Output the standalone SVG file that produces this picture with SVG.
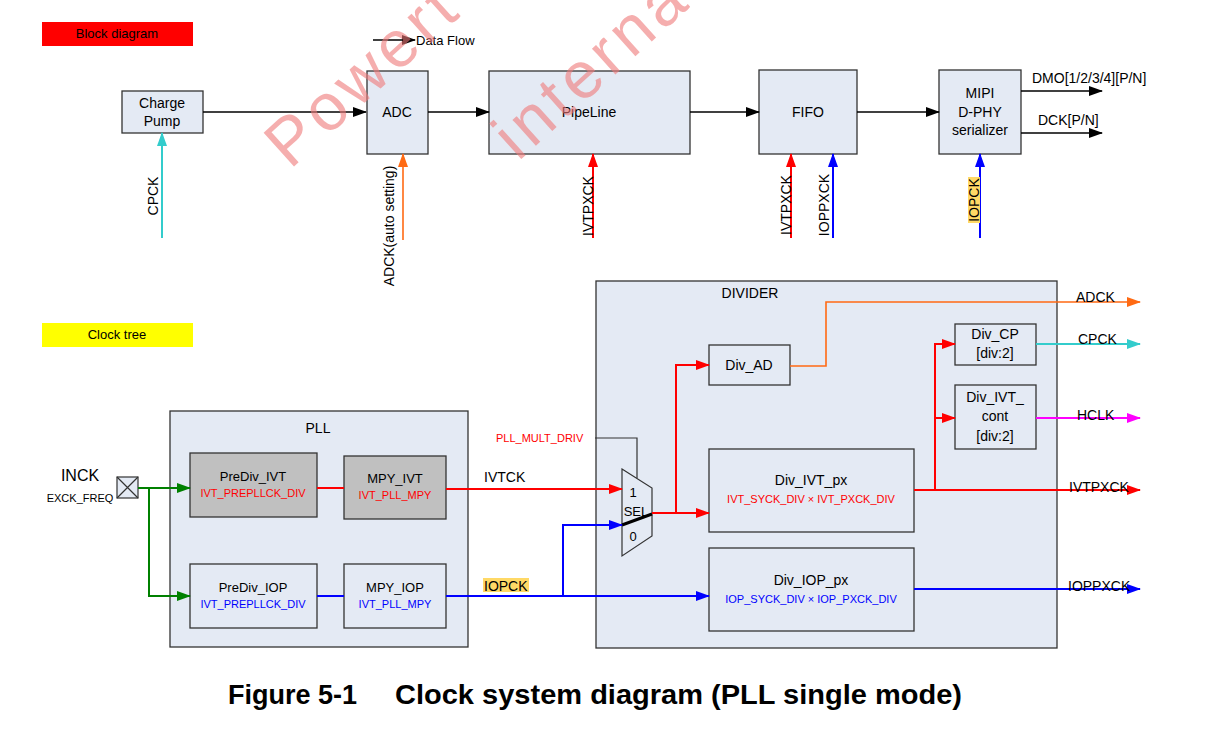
<svg xmlns="http://www.w3.org/2000/svg" width="1228" height="750" viewBox="0 0 1228 750">
<style>
text{font-family:"Liberation Sans",Arial,sans-serif;fill:#000}
.box{fill:#e4eaf4;stroke:#333;stroke-width:1.3}
.gbox{fill:#c0c0c0;stroke:#333;stroke-width:1.3}
.t14{font-size:14px;text-anchor:middle}
.t13{font-size:13px;text-anchor:middle}
.s11{font-size:11px;text-anchor:middle}
.lbl{font-size:14px}
.k{stroke:#000;stroke-width:1.6;fill:none}
.r{stroke:#ff0000;stroke-width:2;fill:none}
.b{stroke:#0000ff;stroke-width:2;fill:none}
.g{stroke:#008000;stroke-width:2;fill:none}
.o{stroke:#ff6a13;stroke-width:1.6;fill:none}
.c{stroke:#33cccc;stroke-width:2;fill:none}
.m{stroke:#ff00ff;stroke-width:2;fill:none}
.wm{font-size:66px;fill:#f07a7a;opacity:0.6;letter-spacing:5px}
</style>
<defs>
<marker id="ak" viewBox="0 0 14 10" refX="13" refY="5" markerWidth="14" markerHeight="10" orient="auto" markerUnits="userSpaceOnUse"><path d="M0,0L14,5L0,10z" fill="#000"/></marker>
<marker id="ar" viewBox="0 0 14 10" refX="13" refY="5" markerWidth="14" markerHeight="10" orient="auto" markerUnits="userSpaceOnUse"><path d="M0,0L14,5L0,10z" fill="#ff0000"/></marker>
<marker id="abl" viewBox="0 0 14 10" refX="13" refY="5" markerWidth="14" markerHeight="10" orient="auto" markerUnits="userSpaceOnUse"><path d="M0,0L14,5L0,10z" fill="#0000ff"/></marker>
<marker id="ag" viewBox="0 0 14 10" refX="13" refY="5" markerWidth="14" markerHeight="10" orient="auto" markerUnits="userSpaceOnUse"><path d="M0,0L14,5L0,10z" fill="#008000"/></marker>
<marker id="ao" viewBox="0 0 14 10" refX="13" refY="5" markerWidth="14" markerHeight="10" orient="auto" markerUnits="userSpaceOnUse"><path d="M0,0L14,5L0,10z" fill="#ff6a13"/></marker>
<marker id="ac" viewBox="0 0 14 10" refX="13" refY="5" markerWidth="14" markerHeight="10" orient="auto" markerUnits="userSpaceOnUse"><path d="M0,0L14,5L0,10z" fill="#33cccc"/></marker>
<marker id="am" viewBox="0 0 14 10" refX="13" refY="5" markerWidth="14" markerHeight="10" orient="auto" markerUnits="userSpaceOnUse"><path d="M0,0L14,5L0,10z" fill="#ff00ff"/></marker>
</defs>
<rect width="1228" height="750" fill="#fff"/>

<!-- section labels -->
<g id="block-diagram-label"><rect x="42" y="22" width="151" height="24" fill="#ff0000"/><text x="117" y="38" class="t13">Block diagram</text></g>
<g id="clock-tree-label"><rect x="42" y="323" width="151" height="24" fill="#ffff00"/><text x="117" y="339" class="t13">Clock tree</text></g>
<g id="legend"><text x="416" y="45" font-size="13">Data Flow</text></g>

<!-- containers -->
<g id="pll"><rect x="170" y="411" width="298" height="236" class="box"/><text x="318" y="433" class="t14">PLL</text></g>
<g id="divider"><rect x="596" y="281" width="461" height="367" class="box"/><text x="750" y="298" class="t14">DIVIDER</text></g>

<!-- block diagram nodes -->
<g id="charge-pump"><rect x="122" y="91" width="81" height="42" class="box"/><text x="162" y="108" class="t14">Charge</text><text x="162" y="126" class="t14">Pump</text></g>
<g id="adc"><rect x="367" y="71" width="61" height="83" class="box"/><text x="397" y="117" class="t14">ADC</text></g>
<g id="pipeline"><rect x="489" y="71" width="201" height="83" class="box"/><text x="589" y="117" class="t14">PipeLine</text></g>
<g id="fifo"><rect x="759" y="70" width="98" height="84" class="box"/><text x="808" y="117" class="t14">FIFO</text></g>
<g id="mipi"><rect x="939" y="70" width="82" height="84" class="box"/><text x="980" y="98" class="t14">MIPI</text><text x="980" y="117" class="t14">D-PHY</text><text x="980" y="135" class="t14">serializer</text></g>

<!-- clock tree nodes -->
<g id="inck"><text x="80" y="481" font-size="16" text-anchor="middle">INCK</text><text x="80" y="502" class="s11">EXCK_FREQ</text><rect x="117" y="477" width="21" height="21" fill="#e4eaf4" stroke="#333" stroke-width="1.2"/><path d="M117,477L138,498M138,477L117,498" stroke="#333" stroke-width="1.2"/></g>
<g id="prediv-ivt"><rect x="190" y="453" width="127" height="64" class="gbox"/><text x="253" y="481" class="t13">PreDiv_IVT</text><text x="253" y="497" class="s11" style="fill:#ff0000">IVT_PREPLLCK_DIV</text></g>
<g id="mpy-ivt"><rect x="344" y="456" width="102" height="63" class="gbox"/><text x="395" y="483" class="t13">MPY_IVT</text><text x="395" y="499" class="s11" style="fill:#ff0000">IVT_PLL_MPY</text></g>
<g id="prediv-iop"><rect x="190" y="564" width="127" height="64" class="box"/><text x="253" y="592" class="t13">PreDiv_IOP</text><text x="253" y="608" class="s11" style="fill:#0000ff">IVT_PREPLLCK_DIV</text></g>
<g id="mpy-iop"><rect x="344" y="564" width="102" height="64" class="box"/><text x="395" y="592" class="t13">MPY_IOP</text><text x="395" y="608" class="s11" style="fill:#0000ff">IVT_PLL_MPY</text></g>
<g id="mux"><polygon points="622,469 652,488 652,536 622,556" fill="#e4eaf4" stroke="#333" stroke-width="1.2"/><text x="633" y="497" class="t13">1</text><text x="636" y="516" class="t13">SEL</text><text x="633" y="541" class="t13">0</text><path d="M622,525L652,514" stroke="#000" stroke-width="3"/></g>
<g id="div-ad"><rect x="709" y="345" width="81" height="40" class="box"/><text x="749" y="370" class="t14">Div_AD</text></g>
<g id="div-cp"><rect x="955" y="324" width="81" height="41" class="box"/><text x="995" y="339" class="t14">Div_CP</text><text x="995" y="358" class="t14">[div:2]</text></g>
<g id="div-ivt-cont"><rect x="955" y="385" width="81" height="64" class="box"/><text x="995" y="402" class="t14">Div_IVT_</text><text x="995" y="421" class="t14">cont</text><text x="995" y="441" class="t14">[div:2]</text></g>
<g id="div-ivt-px"><rect x="709" y="449" width="205" height="83" class="box"/><text x="811" y="485" class="t14">Div_IVT_px</text><text x="811" y="503" class="s11" style="fill:#ff0000">IVT_SYCK_DIV × IVT_PXCK_DIV</text></g>
<g id="div-iop-px"><rect x="709" y="548" width="205" height="83" class="box"/><text x="811" y="585" class="t14">Div_IOP_px</text><text x="811" y="603" class="s11" style="fill:#0000ff">IOP_SYCK_DIV × IOP_PXCK_DIV</text></g>

<!-- connectors -->
<g id="connectors">
<path class="k" d="M373,40H415" marker-end="url(#ak)"/>
<path class="k" d="M203,112H366" marker-end="url(#ak)"/>
<path class="k" d="M428,112H489" marker-end="url(#ak)"/>
<path class="k" d="M690,112H759" marker-end="url(#ak)"/>
<path class="k" d="M857,112H939" marker-end="url(#ak)"/>
<path class="k" d="M1021,91H1102" marker-end="url(#ak)"/>
<path class="k" d="M1021,133H1102" marker-end="url(#ak)"/>
<path class="c" d="M162,238V133" marker-end="url(#ac)"/>
<path class="o" d="M403,240V154" marker-end="url(#ao)"/>
<path class="r" d="M593,238V154" marker-end="url(#ar)"/>
<path class="r" d="M791,238V154" marker-end="url(#ar)"/>
<path class="b" d="M833,238V154" marker-end="url(#abl)"/>
<path class="b" d="M980,238V154" marker-end="url(#abl)"/>

<path class="g" d="M138,488H190" marker-end="url(#ag)"/>
<path class="g" d="M149,488V596H190" marker-end="url(#ag)"/>
<path class="r" d="M317,488H344"/>
<path class="r" d="M446,489H622" marker-end="url(#ar)"/>
<path class="b" d="M317,596H344"/>
<path class="b" d="M446,596H709" marker-end="url(#abl)"/>
<path class="b" d="M563,596V525H622" marker-end="url(#abl)"/>
<path d="M595,438H637V478" stroke="#333" stroke-width="1.2" fill="none"/>
<path class="r" d="M652,513H709" marker-end="url(#ar)"/>
<path class="r" d="M676,513V365H709" marker-end="url(#ar)"/>
<path class="o" d="M790,366H826V302H1140" marker-end="url(#ao)"/>
<path class="r" d="M914,490H1140" marker-end="url(#ar)"/>
<path class="r" d="M935,490V344H955" marker-end="url(#ar)"/>
<path class="r" d="M935,418H955" marker-end="url(#ar)"/>
<path class="c" d="M1036,344H1140" marker-end="url(#ac)"/>
<path class="m" d="M1036,418H1140" marker-end="url(#am)"/>
<path class="b" d="M914,589H1140" marker-end="url(#abl)"/>
</g>

<!-- connector labels -->
<g id="labels">
<text class="lbl" x="1032" y="83">DMO[1/2/3/4][P/N]</text>
<text class="lbl" x="1038" y="125">DCK[P/N]</text>
<text class="t14" transform="translate(158,196) rotate(-90)">CPCK</text>
<text class="t14" transform="translate(394,226) rotate(-90)">ADCK(auto setting)</text>
<text class="t14" transform="translate(593,206) rotate(-90)">IVTPXCK</text>
<text class="t14" transform="translate(791,205) rotate(-90)">IVTPXCK</text>
<text class="t14" transform="translate(829,205) rotate(-90)">IOPPXCK</text>
<rect x="968" y="177" width="12" height="46" fill="#ffd966"/>
<text class="t14" transform="translate(979,200) rotate(-90)">IOPCK</text>
<text class="lbl" x="484" y="482">IVTCK</text>
<text x="496" y="442" font-size="11" style="fill:#ff0000">PLL_MULT_DRIV</text>
<rect x="483" y="578" width="46" height="14" fill="#ffd966"/>
<text class="lbl" x="484" y="591">IOPCK</text>
<text class="lbl" x="1076" y="302">ADCK</text>
<text class="lbl" x="1078" y="344">CPCK</text>
<text class="lbl" x="1077" y="420">HCLK</text>
<text class="lbl" x="1069" y="492">IVTPXCK</text>
<text class="lbl" x="1068" y="591">IOPPXCK</text>
</g>

<!-- caption -->
<text x="228" y="704" font-size="27" font-weight="bold" textLength="129" lengthAdjust="spacingAndGlyphs">Figure 5-1</text>
<text x="395" y="704" font-size="27" font-weight="bold" textLength="567" lengthAdjust="spacingAndGlyphs">Clock system diagram (PLL single mode)</text>

<!-- watermark -->
<text class="wm" transform="translate(290,170) rotate(-42)">Powert</text>
<text class="wm" transform="translate(518,162) rotate(-42)">interna</text>
</svg>
